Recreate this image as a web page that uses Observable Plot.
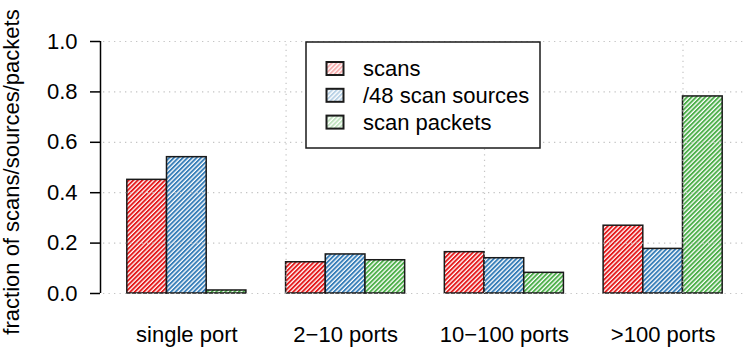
<!DOCTYPE html>
<html>
<head>
<meta charset="utf-8">
<script src="https://cdn.jsdelivr.net/npm/d3@7"></script>
<script src="https://cdn.jsdelivr.net/npm/@observablehq/plot@0.6"></script>
<style>
  html, body { margin: 0; padding: 0; background: #fff; }
  #chart { position: relative; width: 747px; height: 348px; }
</style>
</head>
<body>
<div id="chart"></div>
<script>
// ---- data ----
const categories = ["single port", "2\u221210 ports", "10\u2212100 ports", ">100 ports"];
const seriesNames = ["scans", "/48 scan sources", "scan packets"];
const scans   = [0.451, 0.124, 0.164, 0.269];
const sources = [0.541, 0.155, 0.140, 0.177];
const packets = [0.012, 0.132, 0.082, 0.782];
const yTicks = [0, 0.2, 0.4, 0.6, 0.8, 1.0];
const xGridTicks = [5, 10, 15];
const yLabel = "fraction of scans/sources/packets";

// ---- styles ----
const colors = ["#E41A1C", "#377EB8", "#4DAF4A"];
const font = "'Liberation Sans', Arial, Helvetica, sans-serif";
const fs = 22;
const xDomain = [0.4, 16.6];

const seriesValues = [scans, sources, packets];
// R barplot(beside=TRUE) layout: group g, series s -> [4g+s+1, 4g+s+2]
const rows = [];
seriesValues.forEach((vals, s) => vals.forEach((v, g) => {
  rows.push({series: s, name: seriesNames[s], category: categories[g], x1: 4 * g + s + 1, x2: 4 * g + s + 2, value: v});
}));
const centers = categories.map((c, g) => 4 * g + 2.5);

const gridStyle = {stroke: "#c4c4c4", strokeWidth: 1.2, strokeDasharray: "1.3,4.2"};

const plot = Plot.plot({
  width: 747,
  height: 348,
  marginLeft: 103,
  marginRight: 1,
  marginTop: 41,
  marginBottom: 55,
  style: {fontFamily: font, fontSize: fs + "px", color: "#000", background: "#fff"},
  x: {type: "linear", domain: xDomain, axis: null},
  y: {domain: [0, 1], axis: null},
  marks: [
    ...seriesNames.map((n, s) => Plot.rectY(rows.filter(d => d.series === s), {
      x1: "x1", x2: "x2", y1: 0, y2: "value",
      fill: `url(#hatch-${s})`, stroke: "#1a1a1a", strokeWidth: 1.5
    })),
    Plot.ruleY(yTicks, {x1: xDomain[0], x2: xDomain[1], ...gridStyle}),
    Plot.ruleX(xGridTicks, {y1: 0, y2: 1, ...gridStyle}),
    Plot.ruleX([xDomain[0]], {y1: 0, y2: 1, dx: -3, stroke: "#000", strokeWidth: 1.5}),
    Plot.axisY({ticks: yTicks, tickFormat: d3.format(".1f"), tickSize: 10, tickPadding: 13, dx: -3,
      fontSize: fs, label: null, stroke: "#000", strokeWidth: 1.5}),
    Plot.axisX({ticks: centers, tickFormat: v => categories[Math.round((v - 2.5) / 4)], tickSize: 0,
      tickPadding: 33, fontSize: fs, label: null})
  ]
});

// hatch patterns
const defs = `
<defs>
${colors.map((c, i) => `
  <pattern id="hatch-${i}" patternUnits="userSpaceOnUse" width="3.2" height="3.2" patternTransform="rotate(45)">
    <rect width="3.2" height="3.2" fill="#fff"/>
    <rect width="1.9" height="3.2" fill="${c}"/>
  </pattern>
  <pattern id="lhatch-${i}" patternUnits="userSpaceOnUse" width="3.2" height="3.2" patternTransform="rotate(45)">
    <rect width="3.2" height="3.2" fill="#fff"/>
    <rect width="1.9" height="3.2" fill="${c}" fill-opacity="0.35"/>
  </pattern>`).join("")}
</defs>`;
plot.insertAdjacentHTML("afterbegin", defs);

const svg = d3.select(plot);

// y-axis title
svg.append("text")
  .attr("transform", "translate(18.5,172) rotate(-90)")
  .attr("text-anchor", "middle")
  .attr("font-family", font).attr("font-size", fs).attr("fill", "#000")
  .text(yLabel);

// legend (drawn inside the same svg)
const lg = svg.append("g").attr("font-family", font).attr("font-size", fs).attr("text-anchor", "start");
lg.append("rect").attr("x", 306).attr("y", 42).attr("width", 234).attr("height", 106)
  .attr("fill", "#fff").attr("stroke", "#1a1a1a").attr("stroke-width", 1.5);
seriesNames.forEach((n, i) => {
  const cy = 68.5 + i * 26.8;
  lg.append("rect").attr("x", 326.5).attr("y", cy - 6.5).attr("width", 17).attr("height", 13)
    .attr("fill", `url(#lhatch-${i})`).attr("stroke", "#1a1a1a").attr("stroke-width", 2);
  lg.append("text").attr("x", 363).attr("y", cy + 7.5).attr("fill", "#000")
    .attr("text-anchor", "start").text(n);
});

document.getElementById("chart").appendChild(plot);
</script>
</body>
</html>
